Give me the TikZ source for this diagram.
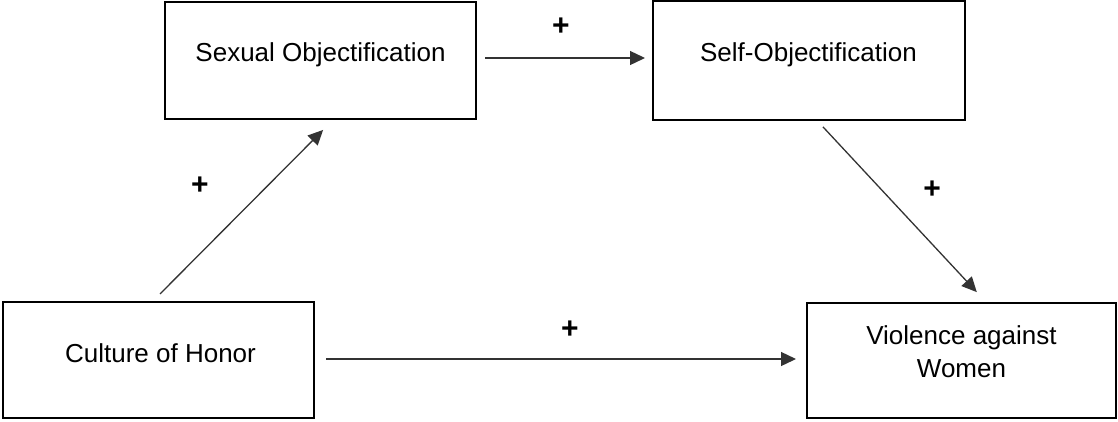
\documentclass[tikz,border=0pt]{standalone}
\usepackage{fontspec}
\setmainfont{Liberation Sans}
\usetikzlibrary{arrows.meta}
\begin{document}
\begin{tikzpicture}[x=1pt,y=-1pt,
  box/.style={draw=black,line width=2pt,minimum width=#1,inner sep=0pt},
  lbl/.style={font=\fontsize{26}{33}\selectfont,text=black,align=center,inner sep=0pt},
  plus/.style={font=\fontsize{30}{34}\selectfont\bfseries,text=black,inner sep=0pt},
  arr/.style={draw=black!80,line width=1.3pt,-{Triangle[length=15pt,width=14pt]}}]
\useasboundingbox (0,0) rectangle (1118,421);
\node[box=311pt,minimum height=117pt] (so) at (320.5,60.5) {};
\node[lbl] (solbl) at (320.5,54.5) {Sexual Objectification};
\node[box=312pt,minimum height=119pt] (self) at (809,60.5) {};
\node[lbl] (selflbl) at (808.5,54.5) {Self-Objectification};
\node[box=311pt,minimum height=116pt] (ch) at (158.5,360) {};
\node[lbl] (chlbl) at (160.5,353) {Culture of Honor};
\node[box=309pt,minimum height=115pt] (vw) at (961.5,360.5) {};
\node[lbl] (vwlbl) at (961.5,351.5) {Violence against\\Women};
\draw[arr,shorten <=8pt,shorten >=7pt] ([yshift=2.5pt]so.east) -- ([yshift=2.5pt]self.west);
\draw[arr,shorten <=10pt,shorten >=14pt] ([xshift=-5.5pt]ch.north) -- ([xshift=12.5pt]so.south);
\draw[arr,shorten <=8pt,shorten >=13.5pt] ([xshift=8.5pt]self.south) -- ([xshift=24.5pt]vw.north);
\draw[arr,shorten <=11pt,shorten >=10pt] ([yshift=1pt]ch.east) -- ([yshift=1.5pt]vw.west);
\node[plus] (p1) at (561,27) {+};
\node[plus] (p2) at (200,186) {+};
\node[plus] (p3) at (932,190) {+};
\node[plus] (p4) at (570,330) {+};
\end{tikzpicture}
\end{document}
